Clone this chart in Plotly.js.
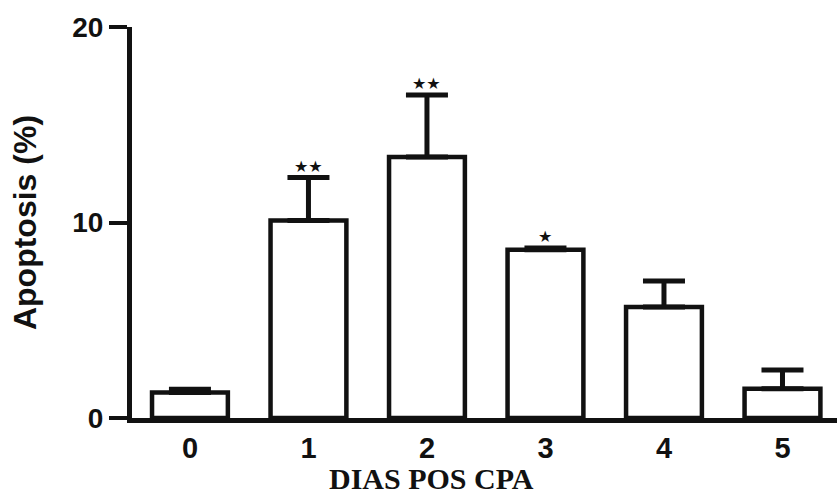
<!DOCTYPE html>
<html>
<head>
<meta charset="utf-8">
<script src="https://cdn.plot.ly/plotly-3.0.1.min.js"></script>
<style>html,body{margin:0;padding:0;background:#fff;}#chart{width:837px;height:499px;}</style>
</head>
<body>
<div id="chart"></div>
<script>
// Data
var days = ["0", "1", "2", "3", "4", "5"];
var apoptosis = [1.3, 10.1, 13.35, 8.6, 5.68, 1.5];
var sem = [0.17, 2.2, 3.17, 0.1, 1.33, 0.95];
var significance = ["", "★★", "★★", "★", "", ""];
var yTicks = [0, 10, 20];

var trace = {
  type: "bar",
  x: days.map(Number),
  y: apoptosis,
  width: 0.64,
  marker: {color: "#ffffff", line: {color: "#111111", width: 4.5}},
  error_y: {type: "data", symmetric: false, array: sem, arrayminus: sem.map(function(){return 0;}),
            color: "#111111", thickness: 5, width: 21},
  hoverinfo: "skip"
};

var annotations = [];
days.forEach(function(d, i) {
  if (significance[i]) {
    annotations.push({
      x: Number(d), y: apoptosis[i] + sem[i], xref: "x", yref: "y",
      text: significance[i], showarrow: false, yanchor: "bottom", yshift: 0,
      font: {family: "DejaVu Sans", size: 16, color: "#111111"}
    });
  }
});
annotations.push({
  text: "<b>DIAS POS CPA</b>", xref: "paper", yref: "paper",
  x: (431.5 - 132) / 705, y: -(479 - 418) / 391, xanchor: "center", yanchor: "middle",
  showarrow: false, font: {family: "Liberation Serif", size: 30, color: "#111111"}
});

var layout = {
  width: 837, height: 499,
  margin: {l: 132, r: 0, t: 27, b: 81, pad: 0},
  paper_bgcolor: "#ffffff", plot_bgcolor: "#ffffff",
  showlegend: false,
  font: {family: "Liberation Sans", color: "#111111"},
  xaxis: {
    range: [-0.489, 5.46], tickvals: days.map(Number), ticktext: days,
    showline: true, linecolor: "#111111", linewidth: 5,
    ticks: "", showgrid: false, zeroline: false,
    tickfont: {family: "Liberation Sans", size: 29, color: "#111111", weight: "bold"}
  },
  yaxis: {
    range: [0, 20], tickvals: yTicks, ticktext: yTicks.map(String),
    showline: true, linecolor: "#111111", linewidth: 5,
    ticks: "outside", ticklen: 18, tickwidth: 4, tickcolor: "#111111",
    showgrid: false, zeroline: false,
    tickfont: {family: "Liberation Sans", size: 28, color: "#111111", weight: "bold"},
    title: {text: "<b>Apoptosis (%)</b>", standoff: 28,
            font: {family: "Liberation Sans", size: 32, color: "#111111"}}
  },
  annotations: annotations
};

Plotly.newPlot("chart", [trace], layout, {staticPlot: true, displayModeBar: false});
</script>
</body>
</html>
